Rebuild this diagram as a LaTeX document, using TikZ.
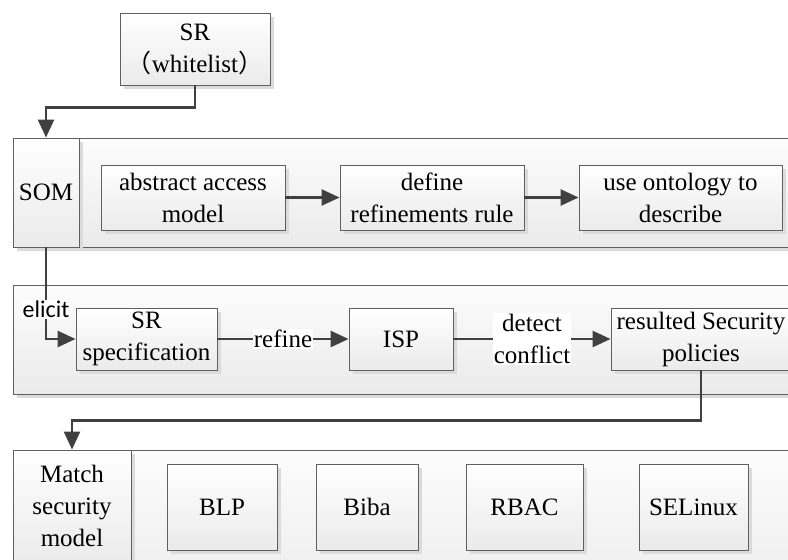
\documentclass[tikz,border=0pt]{standalone}
\usepackage{fontspec}
\setmainfont{Liberation Serif}
\newfontfamily\cjkfont{Noto Sans CJK SC}
\newfontfamily\calfont{Carlito}
\usetikzlibrary{shadows,arrows.meta}
\definecolor{bordergray}{HTML}{606060}
\definecolor{linegray}{HTML}{404040}
\tikzset{
  x=1pt, y=-1pt,
  shade/.style={drop shadow={shadow xshift=4pt, shadow yshift=-4pt, fill=black!14, opacity=1}},
  box/.style={draw=bordergray, line width=0.9pt, top color=white, bottom color=black!8,
    shade, align=center, inner sep=0pt, rectangle,
    font=\fontsize{25}{32}\selectfont},
  band/.style={draw=bordergray, line width=0.9pt, top color=black!1, bottom color=black!8, shade},
  conn/.style={draw=linegray, line width=2.6pt,
    -{Triangle[length=18pt,width=16pt]}},
  lab/.style={fill=white, inner sep=1pt, align=center, font=\fontsize{25}{32}\selectfont},
  elab/.style={fill=white, inner sep=1pt, font=\calfont\fontsize{24}{28}\selectfont}
}
\begin{document}
\begin{tikzpicture}
\useasboundingbox (0,0) rectangle (788,560);
\clip (0,0) rectangle (788,560);

% bands
\path[band] (13,138) rectangle (810,247);
\path[band] (13,285) rectangle (810,394);
\path[band] (13,450) rectangle (810,610);

% top node
\node[box, minimum width=150pt, minimum height=72pt] (sr) at (195,49)
  {SR\\{\cjkfont （}whitelist{\cjkfont ）}};

% row 1
\node[box, minimum width=66pt, minimum height=109pt] (som) at (46,192.5) {SOM};
\node[box, minimum width=184pt, minimum height=65pt] (abs) at (193,197.5) {abstract access\\model};
\node[box, minimum width=184pt, minimum height=65pt] (def) at (432,197.5) {define\\refinements rule};
\node[box, minimum width=203pt, minimum height=65pt] (use) at (680.5,197.5) {use ontology to\\describe};

% row 2
\node[box, minimum width=141pt, minimum height=62pt] (spec) at (146.5,339) {SR\\specification};
\node[box, minimum width=104pt, minimum height=62pt] (isp) at (401,339) {ISP};
\node[box, minimum width=180pt, minimum height=62pt] (res) at (701,339) {resulted Security\\policies};

% row 3
\node[box, minimum width=118pt, minimum height=112pt] (match) at (72,506) {Match\\security\\model};
\node[box, minimum width=110pt, minimum height=86pt] (blp) at (222,507) {BLP};
\node[box, minimum width=102pt, minimum height=86pt] (biba) at (367,507) {Biba};
\node[box, minimum width=117pt, minimum height=86pt] (rbac) at (524.5,507) {RBAC};
\node[box, minimum width=109pt, minimum height=86pt] (selinux) at (693.5,507) {SELinux};

% connectors
\draw[conn] (sr.south) -- ++(0,22) -| (som.north);
\draw[conn] (abs.east) -- (def.west);
\draw[conn] (def.east) -- (use.west);
\draw[conn] (som.south) |- node[pos=0.34, elab] {elicit} (spec.west);
\draw[conn] (spec.east) -- node[lab, pos=0.5] {refine} (isp.west);
\draw[conn] (isp.east) -- node[lab, pos=0.5] {detect\\conflict} (res.west);
\draw[conn] (res.south) -- ++(0,50) -| (match.north);
\end{tikzpicture}
\end{document}
